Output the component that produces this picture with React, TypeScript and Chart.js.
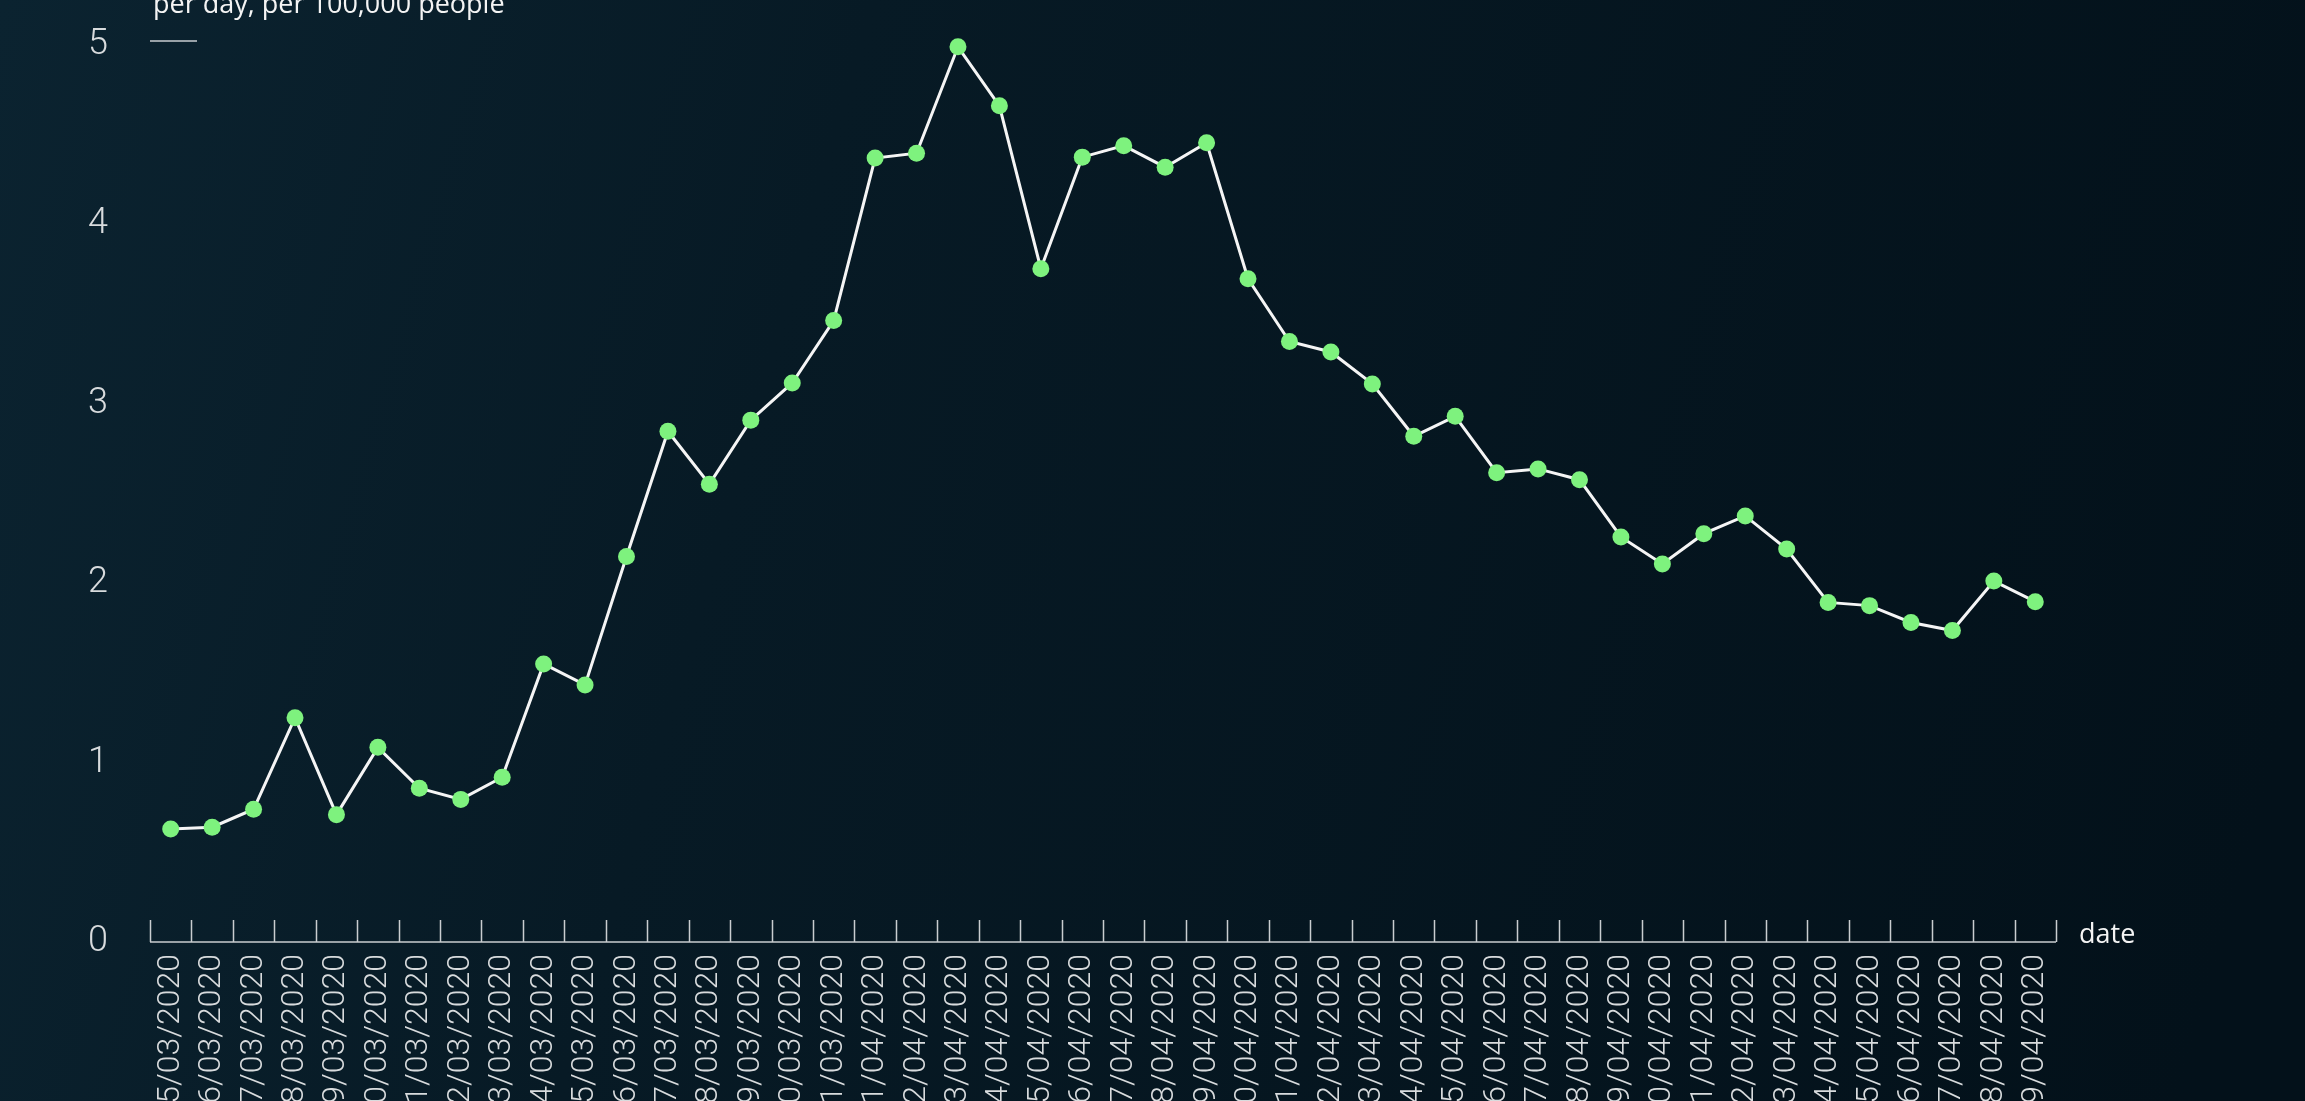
import React, { useEffect, useRef } from "react";
import { Chart, registerables } from "chart.js";

Chart.register(...registerables);

const dates: string[] = [
  "15/03/2020", "16/03/2020", "17/03/2020", "18/03/2020", "19/03/2020", "20/03/2020",
  "21/03/2020", "22/03/2020", "23/03/2020", "24/03/2020", "25/03/2020", "26/03/2020",
  "27/03/2020", "28/03/2020", "29/03/2020", "30/03/2020", "31/03/2020", "01/04/2020",
  "02/04/2020", "03/04/2020", "04/04/2020", "05/04/2020", "06/04/2020", "07/04/2020",
  "08/04/2020", "09/04/2020", "10/04/2020", "11/04/2020", "12/04/2020", "13/04/2020",
  "14/04/2020", "15/04/2020", "16/04/2020", "17/04/2020", "18/04/2020", "19/04/2020",
  "20/04/2020", "21/04/2020", "22/04/2020", "23/04/2020", "24/04/2020", "25/04/2020",
  "26/04/2020", "27/04/2020", "28/04/2020", "29/04/2020",
];

const casesPer100k: number[] = [
  0.63, 0.64, 0.74, 1.25, 0.71, 1.085, 0.857, 0.795, 0.918, 1.55, 1.433, 2.149,
  2.847, 2.552, 2.909, 3.116, 3.464, 4.37, 4.397, 4.99, 4.661, 3.753, 4.375, 4.439,
  4.319, 4.455, 3.697, 3.347, 3.289, 3.111, 2.819, 2.93, 2.616, 2.637, 2.577, 2.258,
  2.107, 2.276, 2.375, 2.19, 1.893, 1.875, 1.781, 1.736, 2.012, 1.897,
];

const yTicks: number[] = [0, 1, 2, 3, 4, 5];
const titleText = "per day, per 100,000 people";
const xAxisTitle = "date";

const W = 2305;
const H = 1101;
const AXIS_Y = 942;
const TOP_Y = 45;

const backgroundPlugin = {
  id: "bg",
  beforeDraw(chart: any) {
    const { ctx } = chart;
    ctx.save();
    const g = ctx.createLinearGradient(0, 0, W, H * 0.6);
    g.addColorStop(0, "#0b2330");
    g.addColorStop(0.35, "#071a25");
    g.addColorStop(1, "#03111a");
    ctx.fillStyle = g;
    ctx.fillRect(0, 0, W, H);
    ctx.restore();
  },
};

const decorPlugin = {
  id: "decor",
  afterDraw(chart: any) {
    const { ctx, chartArea } = chart;
    const x = chart.scales.x;
    const n = chart.data.labels.length;
    const step = x.getPixelForValue(1) - x.getPixelForValue(0);
    ctx.save();
    ctx.strokeStyle = "#c9cdd0";
    ctx.lineWidth = 1.5;
    ctx.beginPath();
    ctx.moveTo(chartArea.left, chartArea.bottom);
    ctx.lineTo(chartArea.right, chartArea.bottom);
    for (let i = 0; i <= n; i++) {
      const px = Math.round(x.getPixelForValue(0) - step / 2 + i * step) + 0.5;
      ctx.moveTo(px, chartArea.bottom);
      ctx.lineTo(px, chartArea.bottom - 22);
    }
    ctx.stroke();

    ctx.fillStyle = "#f4f4f4";
    ctx.font = "27px 'Open Sans', 'Noto Sans', sans-serif";
    ctx.textAlign = "left";
    ctx.textBaseline = "alphabetic";
    ctx.fillText(titleText, 153, 13);

    ctx.strokeStyle = "#c9cdd0";
    ctx.lineWidth = 1.5;
    ctx.beginPath();
    ctx.moveTo(150, 41);
    ctx.lineTo(197, 41);
    ctx.stroke();

    ctx.fillStyle = "#f4f4f4";
    ctx.font = "27px 'Open Sans', 'Noto Sans', sans-serif";
    ctx.fillText(xAxisTitle, chartArea.right + 23, 943);
    ctx.restore();
  },
};

export default function App() {
  const ref = useRef<HTMLCanvasElement | null>(null);

  useEffect(() => {
    document.body.style.margin = "0";
    document.body.style.overflow = "hidden";
    document.body.style.background = "#061822";
    const canvas = ref.current!;
    const xFont = { family: "Roboto, 'Liberation Sans', sans-serif", size: 32, weight: "300" as any };
    const yFont = { family: "Roboto, 'Liberation Sans', sans-serif", size: 36, weight: "300" as any };
    const chart = new Chart(canvas, {
      type: "line",
      data: {
        labels: dates,
        datasets: [
          {
            data: casesPer100k,
            borderColor: "#f5f5f5",
            borderWidth: 3,
            pointBackgroundColor: "#7ef27e",
            pointBorderWidth: 0,
            pointRadius: 8.5,
            pointHoverRadius: 8.5,
            tension: 0,
            clip: false as any,
          },
        ],
      },
      options: {
        responsive: false,
        animation: false,
        devicePixelRatio: 1,
        layout: { padding: { top: 0, right: 249, bottom: 0, left: 0 } },
        plugins: {
          legend: { display: false },
          tooltip: { enabled: false },
          title: { display: false },
        },
        scales: {
          x: {
            type: "category",
            offset: true,
            grid: { display: false, drawTicks: false },
            border: { display: false },
            ticks: {
              autoSkip: false,
              maxRotation: 90,
              minRotation: 90,
              padding: 12,
              color: "#d8dbdd",
              font: xFont,
            },
            afterFit(scale: any) {
              scale.height = H - AXIS_Y;
            },
          },
          y: {
            min: 0,
            max: 5,
            afterBuildTicks(scale: any) {
              scale.ticks = yTicks.map((v) => ({ value: v }));
            },
            grid: { display: false, drawTicks: false },
            border: { display: false },
            ticks: {
              padding: 42,
              color: "#d8dbdd",
              font: yFont,
            },
            afterFit(scale: any) {
              scale.width = 150;
              scale.paddingTop = 0;
              scale.paddingBottom = 0;
            },
          },
        },
      },
      plugins: [
        backgroundPlugin,
        {
          id: "fixTop",
          beforeLayout(chart: any) {
            chart.options.layout.padding.top = TOP_Y;
          },
          afterLayout(chart: any) {
            // keep the plotting area top where the reference has value 5
            if (Math.abs(chart.chartArea.top - TOP_Y) > 0.5) {
              const diff = chart.chartArea.top - TOP_Y;
              chart.options.layout.padding.top = TOP_Y - diff;
            }
          },
        },
        decorPlugin,
      ],
    });
    if (Math.abs(chart.chartArea.top - TOP_Y) > 0.5) {
      chart.update();
    }
    return () => chart.destroy();
  }, []);

  return (
    <canvas
      ref={ref}
      width={W}
      height={H}
      style={{ display: "block", width: W + "px", height: H + "px" }}
    />
  );
}
